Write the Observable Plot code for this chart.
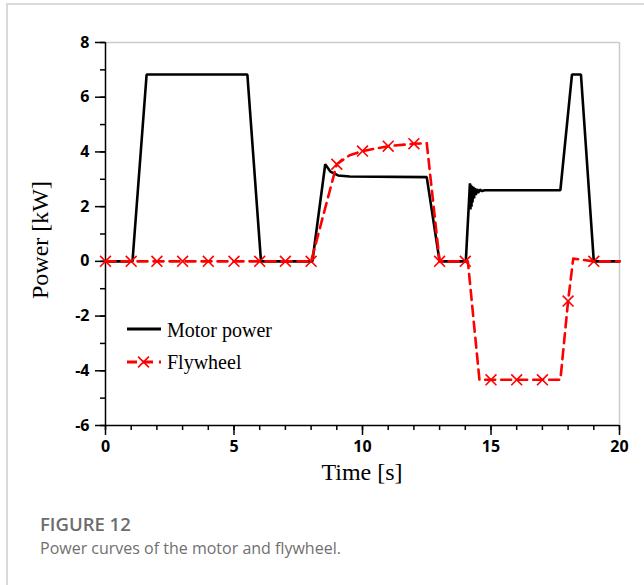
<!DOCTYPE html>
<html>
<head>
<meta charset="utf-8">
<script src="https://cdn.jsdelivr.net/npm/d3@7"></script>
<script src="https://cdn.jsdelivr.net/npm/@observablehq/plot@0.6"></script>
<style>
  html, body { margin: 0; padding: 0; background: #fff; }
  #wrap { position: relative; width: 644px; height: 585px; overflow: hidden; }
  #border { position: absolute; left: 6px; top: 3px; right: -4px; bottom: -4px;
            border-top: 2px solid #d9d9d9; border-left: 2px solid #d9d9d9; }
  #chart { position: absolute; left: 0; top: 0; }
  #fig { position: absolute; left: 40px; top: 511px; font-family: "Open Sans", sans-serif;
         font-weight: 600; font-size: 18.5px; color: #6d6d6d; }
  #cap { position: absolute; left: 40px; top: 537px; font-family: "Open Sans", sans-serif;
         font-size: 16px; color: #707070; }
</style>
</head>
<body>
<div id="wrap">
  <div id="border"></div>
  <div id="chart"></div>
  <div id="fig">FIGURE 12</div>
  <div id="cap">Power curves of the motor and flywheel.</div>
</div>
<script>
// ---- data ----
const motorTime  = [0, 1.05, 1.6, 5.52, 6.05, 8.05, 8.55, 8.75, 9.05, 9.5, 12.5, 13.0,
                    14.02, 14.18, 14.2, 14.22, 14.24, 14.26, 14.28, 14.31, 14.34, 14.37, 14.41,
                    14.45, 14.5, 14.56, 14.65, 14.75, 17.7, 18.15, 18.5, 19.0, 20];
const motorPower = [0, 0, 6.83, 6.83, 0, 0, 3.55, 3.28, 3.14, 3.1, 3.08, 0,
                    0, 2.85, 1.9, 2.8, 2.0, 2.75, 2.15, 2.72, 2.3, 2.68, 2.42,
                    2.65, 2.5, 2.62, 2.57, 2.6, 2.6, 6.83, 6.83, 0, 0];

const flyTime  = [0, 1, 2, 3, 4, 5, 6, 7, 8, 9, 9.5, 10, 11, 12, 12.5, 13, 14, 14.1,
                  14.55, 15, 16, 17, 17.7, 18, 18.2, 19, 20];
const flyPower = [0, 0, 0, 0, 0, 0, 0, 0, 0, 3.55, 3.88, 4.03, 4.21, 4.3, 4.32, 0, 0, 0,
                  -4.33, -4.33, -4.33, -4.33, -4.33, -1.45, 0.1, 0, 0];

const xMajorTicks = [0, 5, 10, 15, 20];
const xMinorTicks = d3.range(0, 21, 1);
const yMajorTicks = [-6, -4, -2, 0, 2, 4, 6, 8];
const yMinorTicks = d3.range(-6, 9, 1);

const seriesNames = ["Motor power", "Flywheel"];
const xLabel = "Time [s]";
const yLabel = "Power [kW]";

// ---- tables ----
const motor = motorTime.map((t, i) => ({t, p: motorPower[i]}));
const fly = flyTime.map((t, i) => ({t, p: flyPower[i]}));
const flyMarkers = fly.filter(d => Number.isInteger(d.t) && d.t < 20);

const RED = "#ff0000";

const plot = Plot.plot({
  width: 644,
  height: 510,
  marginLeft: 105,
  marginRight: 25,
  marginTop: 42,
  marginBottom: 85,
  style: {background: "transparent", color: "#000", fontFamily: "'Open Sans', sans-serif", fontSize: "16px", fontWeight: "bold"},
  x: {domain: [0, 20]},
  y: {domain: [-6, 8]},
  marks: [
    Plot.ruleY([8], {stroke: "#cccccc", strokeWidth: 1.5}),
    Plot.ruleX([20], {stroke: "#cccccc", strokeWidth: 1.5}),
    Plot.axisX({ticks: xMinorTicks, tickSize: 5, tickFormat: () => "", label: null, strokeWidth: 1.5}),
    Plot.axisX({ticks: xMajorTicks, tickSize: 10, tickPadding: 5, label: null, strokeWidth: 1.5, fill: "#000",
                fontSize: 16, fontWeight: "bold"}),
    Plot.axisY({ticks: yMinorTicks, tickSize: 5, tickFormat: () => "", label: null, strokeWidth: 1.5}),
    Plot.axisY({ticks: yMajorTicks, tickSize: 10, tickPadding: 6, label: null, strokeWidth: 1.5, fill: "#000",
                fontSize: 16, fontWeight: "bold",
                tickFormat: d => d < 0 ? "-" + Math.abs(d) : String(d)}),
    Plot.ruleX([0], {stroke: "#000", strokeWidth: 1.5}),
    Plot.ruleY([-6], {stroke: "#000", strokeWidth: 1.5}),
    Plot.line(motor, {x: "t", y: "p", stroke: "#000", strokeWidth: 2.6, strokeLinejoin: "miter"}),
    Plot.line(fly, {x: "t", y: "p", stroke: RED, strokeWidth: 2.6, strokeDasharray: "10,6"}),
    Plot.dot(flyMarkers, {x: "t", y: "p", symbol: "times", r: 5, stroke: RED, strokeWidth: 1.6})
  ]
});

document.getElementById("chart").appendChild(plot);

const svg = d3.select(plot);
svg.selectAll("text")
  .attr("font-family", "'Open Sans', sans-serif").attr("font-size", 16).attr("font-weight", "bold")
  .style("font-family", "'Open Sans', sans-serif")
  .style("font-size", "16px")
  .style("font-weight", "700");

// ---- axis titles and legend ----
const serif = "'Liberation Serif', 'Times New Roman', serif";
svg.append("text").attr("x", 362).attr("y", 480).attr("text-anchor", "middle")
  .style("font-family", serif).style("font-size", "24px").style("font-weight", "normal").attr("fill", "#000")
  .text(xLabel);
svg.append("text").attr("transform", "translate(48,240) rotate(-90)").attr("text-anchor", "middle")
  .style("font-family", serif).style("font-size", "24px").style("font-weight", "normal").attr("fill", "#000")
  .text(yLabel);

const lg = svg.append("g").attr("text-anchor", "start");
lg.append("line").attr("x1", 127).attr("x2", 161).attr("y1", 329).attr("y2", 329)
  .attr("stroke", "#000").attr("stroke-width", 3);
lg.append("text").attr("x", 167).attr("y", 337).attr("text-anchor", "start")
  .style("font-family", serif).style("font-size", "20px").style("font-weight", "normal").attr("fill", "#000").text(seriesNames[0]);
lg.append("line").attr("x1", 127).attr("x2", 161).attr("y1", 362).attr("y2", 362)
  .attr("stroke", RED).attr("stroke-width", 3).attr("stroke-dasharray", "10,6");
lg.append("path").attr("d", d3.symbol(d3.symbolTimes, Math.PI * 25)()).attr("transform", "translate(143.5,362)")
  .attr("fill", "none").attr("stroke", RED).attr("stroke-width", 1.6);
lg.append("text").attr("x", 167).attr("y", 369).attr("text-anchor", "start")
  .style("font-family", serif).style("font-size", "20px").style("font-weight", "normal").attr("fill", "#000").text(seriesNames[1]);
</script>
</body>
</html>
